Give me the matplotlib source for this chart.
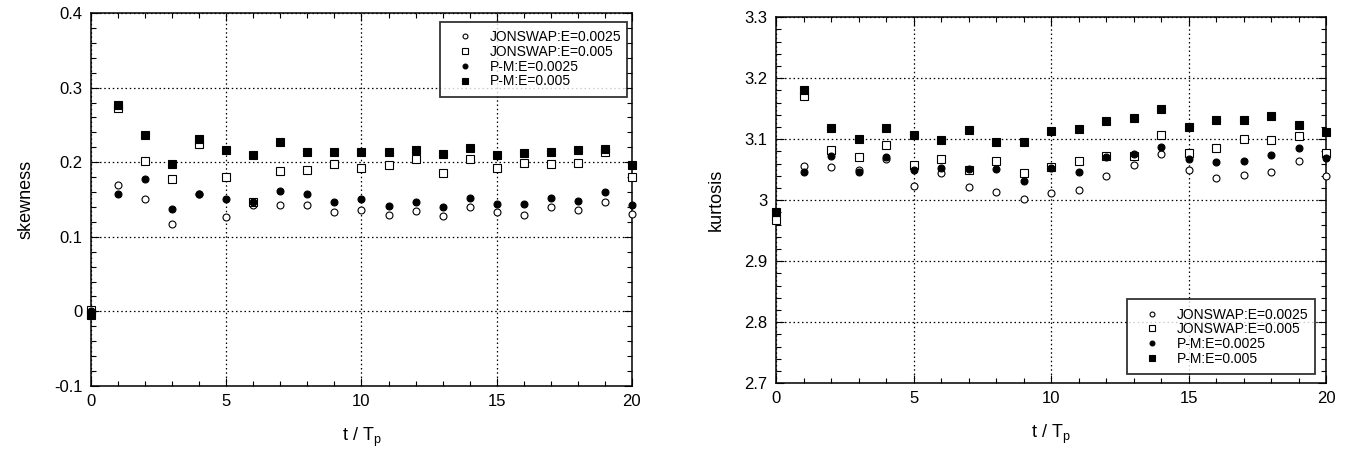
import matplotlib
matplotlib.use("Agg")
import matplotlib.pyplot as plt
from matplotlib.ticker import MultipleLocator, FuncFormatter

plt.rcParams["font.family"] = ["Liberation Sans", "DejaVu Sans"]

t = list(range(21))
labels = ["JONSWAP:E=0.0025", "JONSWAP:E=0.005", "P-M:E=0.0025", "P-M:E=0.005"]

# skewness
skew_j0025 = [0.0, 0.170, 0.150, 0.117, 0.158, 0.127, 0.142, 0.142, 0.142, 0.133, 0.136,
              0.129, 0.134, 0.128, 0.140, 0.133, 0.129, 0.140, 0.136, 0.146, 0.131]
skew_j005 = [0.002, 0.272, 0.202, 0.178, 0.224, 0.180, 0.146, 0.188, 0.190, 0.198, 0.192,
             0.196, 0.204, 0.186, 0.204, 0.192, 0.199, 0.197, 0.199, 0.213, 0.180]
skew_pm0025 = [0.0, 0.158, 0.177, 0.137, 0.158, 0.151, 0.146, 0.161, 0.157, 0.147, 0.150,
               0.141, 0.147, 0.140, 0.152, 0.144, 0.144, 0.152, 0.148, 0.160, 0.143]
skew_pm005 = [-0.005, 0.277, 0.236, 0.198, 0.231, 0.217, 0.210, 0.227, 0.214, 0.214, 0.214,
              0.214, 0.217, 0.211, 0.219, 0.209, 0.212, 0.214, 0.216, 0.218, 0.196]

# kurtosis
kurt_j0025 = [2.967, 3.056, 3.054, 3.050, 3.068, 3.023, 3.044, 3.022, 3.013, 3.002, 3.011,
              3.016, 3.039, 3.057, 3.075, 3.049, 3.036, 3.042, 3.047, 3.064, 3.040]
kurt_j005 = [2.967, 3.170, 3.083, 3.071, 3.090, 3.057, 3.068, 3.049, 3.064, 3.045, 3.055,
             3.064, 3.072, 3.072, 3.107, 3.077, 3.086, 3.101, 3.099, 3.106, 3.077]
kurt_pm0025 = [2.980, 3.046, 3.072, 3.046, 3.070, 3.049, 3.052, 3.051, 3.051, 3.032, 3.052,
               3.047, 3.070, 3.075, 3.088, 3.068, 3.063, 3.065, 3.074, 3.085, 3.069]
kurt_pm005 = [2.980, 3.180, 3.119, 3.100, 3.119, 3.107, 3.099, 3.115, 3.096, 3.096, 3.113,
              3.116, 3.130, 3.135, 3.150, 3.120, 3.131, 3.132, 3.138, 3.124, 3.112]

styles = [
    dict(marker="o", ms=5, mfc="white", mec="black", mew=0.8),
    dict(marker="s", ms=5.5, mfc="white", mec="black", mew=0.8),
    dict(marker="o", ms=5, mfc="black", mec="black", mew=0.8),
    dict(marker="s", ms=6, mfc="black", mec="black", mew=0.8),
]

fig = plt.figure(figsize=(13.59, 4.65), dpi=100)
ax1 = fig.add_axes([0.067, 0.170, 0.398, 0.802])
ax2 = fig.add_axes([0.571, 0.176, 0.405, 0.787])


def style_axis(ax, ymin, ymax, ymaj, ymin_step):
    ax.set_xlim(0, 20)
    ax.set_ylim(ymin, ymax)
    ax.xaxis.set_major_locator(MultipleLocator(5))
    ax.xaxis.set_minor_locator(MultipleLocator(1))
    ax.yaxis.set_major_locator(MultipleLocator(ymaj))
    ax.yaxis.set_minor_locator(MultipleLocator(ymin_step))
    ax.yaxis.set_major_formatter(FuncFormatter(lambda v, p: f"{round(v, 3):g}"))
    ax.tick_params(which="both", direction="in", top=True, right=True, labelsize=12, width=0.8)
    ax.tick_params(which="major", length=6, pad=6)
    ax.tick_params(which="minor", length=3.5)
    ax.grid(True, which="major", linestyle=(0, (1.2, 2.2)), color="black", linewidth=0.9)
    for s in ax.spines.values():
        s.set_linewidth(1.1)
    ax.set_xlabel("t / T$_\\mathregular{p}$", fontsize=13, labelpad=12)


series1 = [skew_j0025, skew_j005, skew_pm0025, skew_pm005]
series2 = [kurt_j0025, kurt_j005, kurt_pm0025, kurt_pm005]
for ys, st, lab in zip(series1, styles, labels):
    ax1.plot(t, ys, linestyle="none", label=lab, clip_on=False, zorder=3, **st)
for ys, st, lab in zip(series2, styles, labels):
    ax2.plot(t, ys, linestyle="none", label=lab, clip_on=False, zorder=3, **st)

style_axis(ax1, -0.1, 0.4, 0.1, 0.02)
style_axis(ax2, 2.7, 3.3, 0.1, 0.02)
ax1.set_ylabel("skewness", fontsize=13, labelpad=14)
ax2.set_ylabel("kurtosis", fontsize=13, labelpad=14)

leg_kw = dict(frameon=True, fancybox=False, edgecolor="black", fontsize=10,
              markerscale=0.7, handletextpad=0.6, labelspacing=0.05, borderpad=0.6,
              handlelength=2.4, borderaxespad=0, mode="expand")
l1 = ax1.legend(loc="upper right", bbox_to_anchor=(0.645, 0.788, 0.345, 0.188), **leg_kw)
l2 = ax2.legend(loc="lower right", bbox_to_anchor=(0.638, 0.025, 0.342, 0.202), **leg_kw)
for lg in (l1, l2):
    lg.get_frame().set_linewidth(1.3)
    lg.set_zorder(5)

fig.savefig("out.png", dpi=100)
